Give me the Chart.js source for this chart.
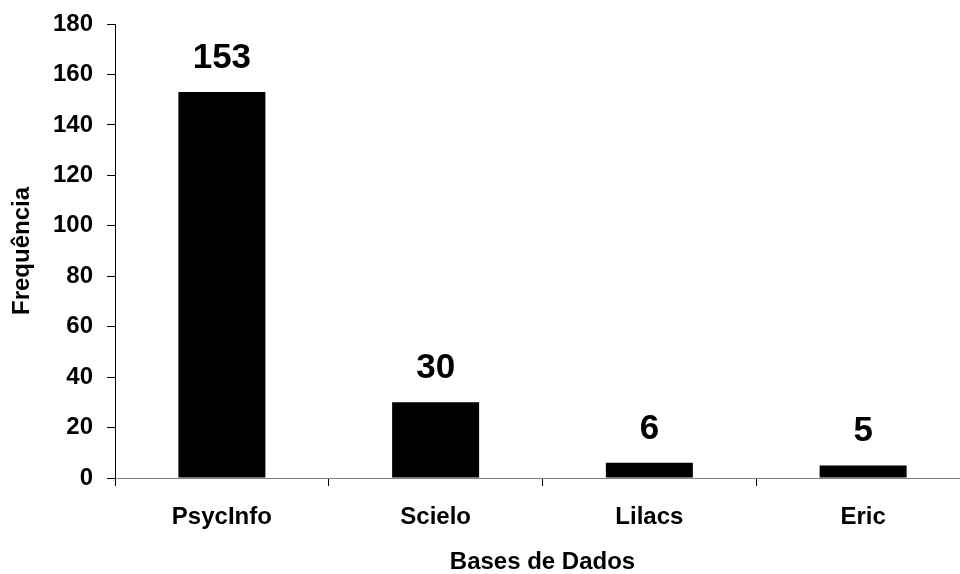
<!DOCTYPE html>
<html>
<head>
<meta charset="utf-8">
<script src="https://cdn.jsdelivr.net/npm/chart.js@4/dist/chart.umd.min.js"></script>
<style>
  html, body { margin: 0; padding: 0; background: #fff; overflow: hidden; }
  #wrap { position: relative; width: 970px; height: 574px; }
</style>
</head>
<body>
<div id="wrap"><canvas id="c"></canvas></div>
<script>
const categories = ['PsycInfo', 'Scielo', 'Lilacs', 'Eric'];
const frequencies = [153, 30, 6, 5];
const yTitle = 'Frequência';
const xTitle = 'Bases de Dados';
const yMax = 180;
const yStep = 20;

const FONT = '"Liberation Sans", Arial, Helvetica, sans-serif';

const valueLabels = {
  id: 'valueLabels',
  afterDatasetsDraw(chart) {
    const ctx = chart.ctx;
    const meta = chart.getDatasetMeta(0);
    ctx.save();
    ctx.font = 'bold 35px ' + FONT;
    ctx.fillStyle = '#000';
    ctx.textAlign = 'center';
    ctx.textBaseline = 'alphabetic';
    meta.data.forEach((bar, i) => {
      ctx.fillText(String(chart.data.datasets[0].data[i]), bar.x, bar.y - 24);
    });
    ctx.restore();
  }
};

new Chart(document.getElementById('c'), {
  type: 'bar',
  data: {
    labels: categories,
    datasets: [{
      data: frequencies,
      backgroundColor: '#000',
      borderWidth: 0,
      categoryPercentage: 1,
      barPercentage: 0.407
    }]
  },
  options: {
    responsive: true,
    maintainAspectRatio: false,
    animation: false,
    layout: { padding: { top: 24, right: 0, bottom: 0, left: 0 } },
    plugins: { legend: { display: false }, tooltip: { enabled: false } },
    scales: {
      x: {
        afterFit(scale) { scale.height = 96; scale.paddingLeft = 0; scale.paddingRight = 0; },
        grid: { display: true, drawOnChartArea: false, drawTicks: true, tickLength: 8, color: '#000', offset: true },
        border: { display: true, color: '#808080', width: 1 },
        ticks: { color: '#000', font: { family: FONT, size: 24, weight: 'bold' }, padding: 17, maxRotation: 0, autoSkip: false },
        title: { display: true, text: xTitle, color: '#000', font: { family: FONT, size: 24, weight: 'bold' }, padding: { top: 0, bottom: -3 } }
      },
      y: {
        min: 0,
        max: yMax,
        afterFit(scale) { scale.width = 115; scale.paddingTop = 0; scale.paddingBottom = 0; },
        grid: { display: true, drawOnChartArea: false, drawTicks: true, tickLength: 8, color: '#000' },
        border: { display: true, color: '#000', width: 1 },
        ticks: { stepSize: yStep, color: '#000', font: { family: FONT, size: 24, weight: 'bold' }, padding: 14 },
        title: { display: true, text: yTitle, color: '#000', font: { family: FONT, size: 24, weight: 'bold' }, padding: { top: 8, bottom: 0 } }
      }
    }
  },
  plugins: [valueLabels]
});
</script>
</body>
</html>
